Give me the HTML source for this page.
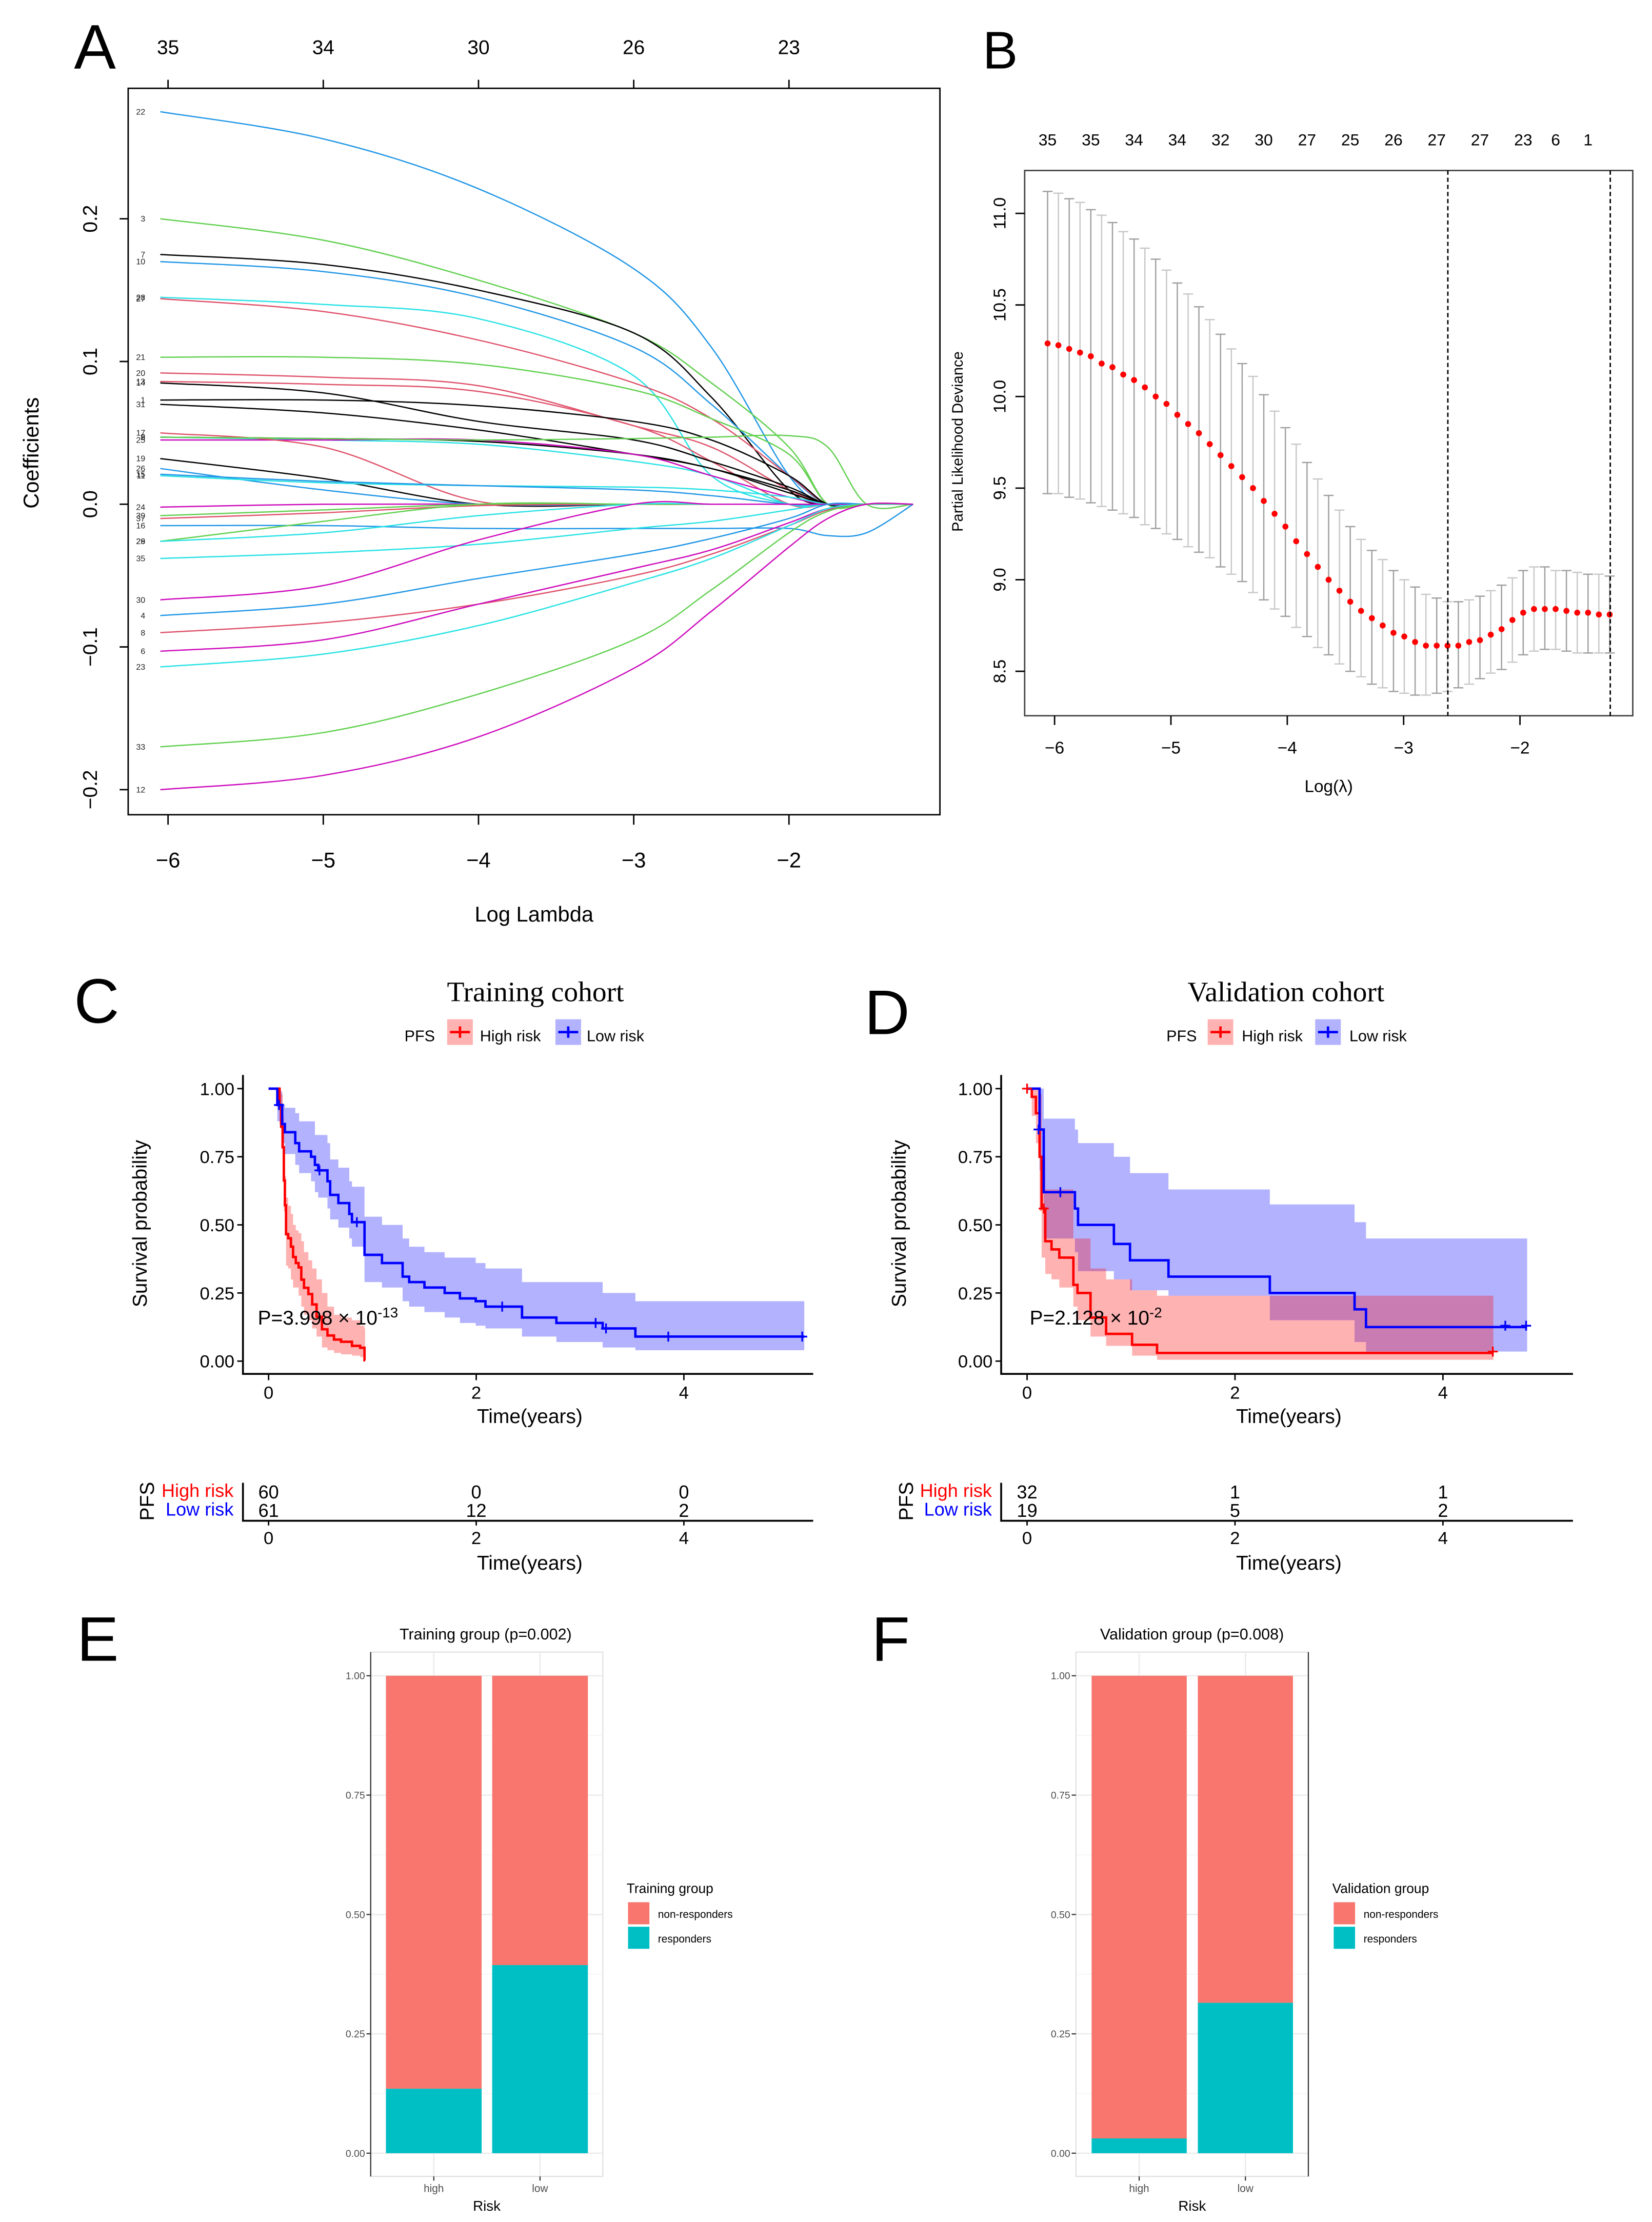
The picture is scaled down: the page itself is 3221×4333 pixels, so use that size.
<!DOCTYPE html>
<html><head><meta charset="utf-8">
<style>
html,body{margin:0;padding:0;background:#fff;}
svg{display:block;font-family:"Liberation Sans",sans-serif;}
</style></head>
<body>
<svg id="fig" xmlns="http://www.w3.org/2000/svg" width="3221" height="4333" viewBox="0 0 1160 1560" preserveAspectRatio="none">
<rect x="0" y="0" width="1160" height="1560" fill="#fff"/>
<g font-size="44" fill="#000">
<text x="52" y="48">A</text>
<text x="690" y="48" font-size="37">B</text>
<text x="52" y="718">C</text>
<text x="607" y="726">D</text>
<text x="54" y="1166">E</text>
<text x="612" y="1166">F</text>
</g>
<g id="pA"></g>
<g id="pB"></g>
<g id="pC"></g>
<g id="pD"></g>
<g id="pE"></g>
<g id="pF"></g>
</svg>
<script>
// ---------- Panel A data ----------
const aGrid = [-6.05,-5,-4,-3,-2.5,-2,-1.75,-1.5,-1.2];
const aTopTicks = [-6,-5,-4,-3,-2];
const aTopLabels = ["35","34","30","26","23"];
const aYTicks = [-0.2,-0.1,0.0,0.1,0.2];
const aLabels = ["22","3","7","10","28","27","21","20","13","14","1","31","2","9","25","17","5","19","26","11","15","24","39","37","16","29","28","35","30","4","8","6","23","33","12"];
const aColors = ["#2297E6","#61D04F","#000000","#2297E6","#28E2E5","#DF536B","#61D04F","#DF536B","#DF536B","#000000","#000000","#000000","#000000","#28E2E5","#CD0BBC","#DF536B","#61D04F","#000000","#2297E6","#28E2E5","#2297E6","#CD0BBC","#61D04F","#DF536B","#2297E6","#61D04F","#28E2E5","#28E2E5","#CD0BBC","#2297E6","#DF536B","#CD0BBC","#28E2E5","#61D04F","#CD0BBC"];
const aValues = [
[.275,.256,.221,.165,.11,.02,0,0,0],
[.2,.185,.157,.12,.085,.04,0,0,0],
[.175,.168,.15,.12,.075,.01,0,0,0],
[.17,.163,.145,.11,.07,.02,0,0,0],
[.145,.14,.13,.09,.02,0,0,0,0],
[.144,.135,.115,.085,.06,.02,0,0,0],
[.103,.103,.098,.08,.06,.035,0,0,0],
[.092,.089,.083,.055,.04,.01,0,0,0],
[.086,.084,.079,.055,.03,0,0,0,0],
[.085,.078,.058,.045,.03,.012,0,0,0],
[.073,.073,.069,.058,.045,.02,0,0,0],
[.07,.064,.052,.035,.025,.008,0,0,0],
[.047,.046,.044,.035,.025,.01,0,0,0],
[.047,.045,.042,.03,.02,0,0,0,0],
[.045,.045,.045,.035,.02,.005,0,0,0],
[.05,.04,.002,0,0,0,0,0,0],
[.047,.046,.045,.046,.047,.048,.04,0,0],
[.032,.018,0,0,0,0,0,0,0],
[.025,.01,0,0,0,0,0,0,0],
[.02,.015,.013,.012,.01,.005,0,0,0],
[.021,.016,.013,.01,.006,0,0,0,0],
[-.002,0,0,0,0,0,0,0,0],
[-.008,-.004,0,0,0,0,0,0,0],
[-.01,-.006,-.001,0,0,0,0,0,0],
[-.015,-.015,-.017,-.017,-.017,-.017,-.022,-.02,0],
[-.026,-.012,0,0,0,0,0,0,0],
[-.026,-.02,-.008,0,0,0,0,0,0],
[-.038,-.034,-.028,-.017,-.012,-.004,0,0,0],
[-.067,-.057,-.025,0,0,0,0,0,0],
[-.078,-.07,-.052,-.035,-.024,-.01,0,0,0],
[-.09,-.083,-.07,-.05,-.035,-.015,-.004,0,0],
[-.103,-.095,-.07,-.045,-.032,-.013,-.003,0,0],
[-.114,-.105,-.085,-.055,-.038,-.015,-.003,0,0],
[-.17,-.16,-.133,-.095,-.06,-.02,-.005,0,0],
[-.2,-.19,-.163,-.115,-.075,-.03,-.01,0,0]];

// ---------- Panel B data ----------
const bStart = -6.06, bStep = 0.0929;
const bMean = [10.29,10.28,10.26,10.24,10.22,10.18,10.16,10.12,10.09,10.05,10.00,9.96,9.90,9.85,9.80,9.74,9.68,9.62,9.56,9.50,9.43,9.36,9.29,9.21,9.14,9.07,9.00,8.94,8.88,8.83,8.79,8.75,8.71,8.69,8.66,8.64,8.64,8.64,8.64,8.66,8.67,8.70,8.73,8.78,8.82,8.84,8.84,8.84,8.83,8.82,8.82,8.81,8.81];
const bUpper = [11.12,11.11,11.08,11.06,11.02,10.99,10.95,10.90,10.86,10.81,10.75,10.69,10.62,10.56,10.49,10.42,10.34,10.26,10.18,10.11,10.01,9.92,9.83,9.74,9.64,9.55,9.46,9.38,9.29,9.22,9.16,9.11,9.05,9.00,8.96,8.92,8.90,8.88,8.88,8.89,8.91,8.94,8.97,9.01,9.05,9.07,9.07,9.05,9.05,9.04,9.03,9.03,9.02];
const bLower = [9.47,9.47,9.45,9.44,9.42,9.40,9.38,9.36,9.34,9.30,9.28,9.25,9.22,9.18,9.15,9.12,9.07,9.03,8.99,8.93,8.89,8.84,8.80,8.74,8.69,8.63,8.59,8.54,8.50,8.47,8.43,8.41,8.39,8.38,8.37,8.37,8.38,8.39,8.41,8.43,8.46,8.49,8.51,8.55,8.59,8.61,8.62,8.62,8.61,8.60,8.60,8.60,8.60];
const bTopLabels = ["35","35","34","34","32","30","27","25","26","27","27","23","6","1"];
const bTopIdx = [0,4,8,12,16,20,24,28,32,36,40,44,47,50];
const bVlines = [-2.62,-1.224];
const bXTicks = [-6,-5,-4,-3,-2];
const bYTicks = [8.5,9.0,9.5,10.0,10.5,11.0];

// ---------- Panel C data ----------
const cBlueT = [0,0.084,0.131,0.157,0.257,0.294,0.409,0.446,0.478,0.567,0.593,0.672,0.777,0.803,0.924,1.092,1.291,1.354,1.501,1.696,1.843,1.995,2.089,2.441,2.772,3.218,3.533];
const cBlueS = [1,0.94,0.87,0.84,0.80,0.77,0.75,0.72,0.70,0.66,0.61,0.58,0.54,0.51,0.39,0.36,0.31,0.29,0.27,0.25,0.23,0.22,0.20,0.16,0.14,0.12,0.09];
const cBlueU = [1,0.99,0.94,0.93,0.91,0.88,0.88,0.83,0.83,0.80,0.74,0.71,0.66,0.64,0.53,0.50,0.45,0.42,0.40,0.38,0.38,0.36,0.34,0.29,0.29,0.25,0.22];
const cBlueL = [1,0.88,0.80,0.76,0.72,0.69,0.66,0.62,0.60,0.56,0.52,0.49,0.45,0.42,0.29,0.27,0.22,0.20,0.18,0.16,0.14,0.13,0.12,0.09,0.07,0.05,0.04];
const cBlueEnd = 5.16;
const cBlueCT = [0.1,0.49,0.85,2.25,3.15,3.25,3.85,5.14];
const cBlueCS = [0.94,0.70,0.51,0.20,0.14,0.12,0.09,0.09];
const cRedT = [0,0.084,0.105,0.121,0.136,0.147,0.157,0.168,0.189,0.215,0.236,0.262,0.289,0.315,0.341,0.383,0.42,0.462,0.514,0.567,0.63,0.698,0.803,0.882,0.924];
const cRedS = [1,1,0.936,0.86,0.785,0.663,0.572,0.466,0.451,0.42,0.382,0.36,0.344,0.299,0.269,0.246,0.208,0.163,0.117,0.094,0.079,0.071,0.056,0.049,0.003];
const cRedU = [1,1,1,0.98,0.9,0.78,0.68,0.6,0.57,0.54,0.5,0.48,0.47,0.44,0.4,0.37,0.34,0.3,0.25,0.2,0.17,0.16,0.15,0.13,0.12];
const cRedL = [1,1,0.87,0.78,0.68,0.55,0.46,0.35,0.34,0.3,0.27,0.27,0.24,0.2,0.17,0.15,0.12,0.09,0.05,0.04,0.03,0.025,0.02,0.015,0.0];
const cRedEnd = 0.93;
const cRedCT = [];
const cRedCS = [];
const cRiskHigh = ["60","0","0"];
const cRiskLow = ["61","12","2"];

// ---------- Panel D data ----------
const dBlueT = [0,0.12,0.16,0.46,0.49,0.835,0.99,1.36,2.335,3.15,3.26];
const dBlueS = [1,0.85,0.62,0.56,0.50,0.43,0.37,0.31,0.25,0.19,0.125];
const dBlueU = [1,1,0.89,0.85,0.80,0.75,0.69,0.63,0.575,0.51,0.45];
const dBlueL = [1,0.70,0.45,0.40,0.33,0.30,0.26,0.24,0.15,0.07,0.035];
const dBlueEnd = 4.81;
const dBlueCT = [0.11,0.32,4.6,4.8];
const dBlueCS = [0.85,0.62,0.13,0.13];
const dRedT = [0,0.045,0.085,0.12,0.14,0.175,0.235,0.31,0.445,0.485,0.61,0.76,1.01,1.25];
const dRedS = [1,0.97,0.91,0.75,0.56,0.44,0.41,0.38,0.28,0.25,0.16,0.10,0.06,0.03];
const dRedU = [1,1,1,0.98,0.75,0.63,0.63,0.63,0.45,0.45,0.34,0.30,0.26,0.24];
const dRedL = [1,0.9,0.8,0.55,0.38,0.32,0.30,0.27,0.20,0.15,0.09,0.056,0.02,0.005];
const dRedEnd = 4.485;
const dRedCT = [0,0.16,4.48];
const dRedCS = [1.0,0.56,0.035];
const dRiskHigh = ["32","1","1"];
const dRiskLow = ["19","5","2"];

const kmXTicks = [0,2,4];
const kmYTicks = [0,0.25,0.5,0.75,1.0];
const kmYLabels = ["0.00","0.25","0.50","0.75","1.00"];

// ---------- Panels E/F data ----------
const barCats = ["high","low"];
const eResponders = [0.135,0.394];
const fResponders = [0.031,0.315];
const barYTicks = [0,0.25,0.5,0.75,1.0];
const barYLabels = ["0.00","0.25","0.50","0.75","1.00"];

// ---------- helpers ----------
const NS = "http://www.w3.org/2000/svg";
function mk(parent, tag, attrs, text) {
  const e = document.createElementNS(NS, tag);
  for (const k in attrs) e.setAttribute(k, attrs[k]);
  if (text !== undefined) e.textContent = text;
  parent.appendChild(e);
  return e;
}
function smooth(pts) {
  let d = "M" + pts[0][0].toFixed(2) + "," + pts[0][1].toFixed(2);
  for (let i = 0; i < pts.length - 1; i++) {
    const p0 = pts[Math.max(0, i - 1)], p1 = pts[i], p2 = pts[i + 1], p3 = pts[Math.min(pts.length - 1, i + 2)];
    const c1x = p1[0] + (p2[0] - p0[0]) / 6, c1y = p1[1] + (p2[1] - p0[1]) / 6;
    const c2x = p2[0] - (p3[0] - p1[0]) / 6, c2y = p2[1] - (p3[1] - p1[1]) / 6;
    d += "C" + c1x.toFixed(2) + "," + c1y.toFixed(2) + " " + c2x.toFixed(2) + "," + c2y.toFixed(2) + " " + p2[0].toFixed(2) + "," + p2[1].toFixed(2);
  }
  return d;
}

// ---------- Panel A ----------
(function () {
  const g = document.getElementById("pA");
  const ax = x => 118 + (x + 6) * 109;
  const ay = v => 354 - v * 1002;
  const box = mk(g, "rect", {x: 90, y: 62, width: 570, height: 510, fill: "none", stroke: "#000", "stroke-width": 1});
  
  
  aValues.forEach((vals, i) => {
    const pts = aGrid.map((x, j) => [ax(x), ay(vals[j])]);
    const p = mk(g, "path", {d: smooth(pts), fill: "none", stroke: aColors[i], "stroke-width": 0.9});
    
    
    const t = mk(g, "text", {x: 102, y: ay(vals[0]) + 2, "font-size": 5.8, "text-anchor": "end", fill: "#222"}, aLabels[i]);
    
    
  });
  aTopTicks.forEach((x, i) => {
    const tk = mk(g, "line", {x1: ax(x), x2: ax(x), y1: 56, y2: 62, stroke: "#000", "stroke-width": 1});
    
    
    const t = mk(g, "text", {x: ax(x), y: 38, "font-size": 14, "text-anchor": "middle"}, aTopLabels[i]);
    
    
    const bt = mk(g, "line", {x1: ax(x), x2: ax(x), y1: 572, y2: 579, stroke: "#000", "stroke-width": 1});
    
    
    const bl = mk(g, "text", {x: ax(x), y: 609, "font-size": 15, "text-anchor": "middle"}, "\u2212" + Math.abs(x));
    
    
  });
  aYTicks.forEach(v => {
    const tk = mk(g, "line", {x1: 84, x2: 90, y1: ay(v), y2: ay(v), stroke: "#000", "stroke-width": 1});
    
    
    const lab = (v < 0 ? "\u2212" : "") + Math.abs(v).toFixed(1);
    const t = mk(g, "text", {x: 0, y: 0, "font-size": 14, "text-anchor": "middle", transform: "translate(68," + ay(v) + ") rotate(-90)"}, lab);
    
    
  });
  const xt = mk(g, "text", {x: 375, y: 647, "font-size": 15, "text-anchor": "middle"}, "Log Lambda");
  
  
  const yt = mk(g, "text", {x: 0, y: 0, "font-size": 15, "text-anchor": "middle", transform: "translate(27,318) rotate(-90)"}, "Coefficients");
  
  
})();

// ---------- Panel B ----------
(function () {
  const g = document.getElementById("pB");
  const bx = l => 1067.3 + (l + 2) * 81.7;
  const by = v => 471.3 - (v - 8.5) * 128.6;
  const box = mk(g, "rect", {x: 719.5, y: 119.7, width: 427, height: 382.8, fill: "none", stroke: "#444", "stroke-width": 1});
  
  
  bMean.forEach((m, i) => {
    const x = bx(bStart + i * bStep);
    const col = i % 2 ? "#c8c8c8" : "#a0a0a0";
    const eb = mk(g, "path", {d: "M" + x + "," + by(bUpper[i]) + "V" + by(bLower[i]) + "M" + (x - 3.5) + "," + by(bUpper[i]) + "H" + (x + 3.5) + "M" + (x - 3.5) + "," + by(bLower[i]) + "H" + (x + 3.5), stroke: col, "stroke-width": 0.9, fill: "none"});
    
    
  });
  bMean.forEach((m, i) => {
    const c = mk(g, "circle", {cx: bx(bStart + i * bStep), cy: by(m), r: 2.1, fill: "#ff0000"});
    
    
  });
  bVlines.forEach(l => {
    const v = mk(g, "line", {x1: bx(l), x2: bx(l), y1: 119.7, y2: 502.5, stroke: "#000", "stroke-width": 1, "stroke-dasharray": "3,2"});
    
    
  });
  bTopIdx.forEach((idx, i) => {
    const t = mk(g, "text", {x: bx(bStart + idx * bStep), y: 102, "font-size": 11.5, "text-anchor": "middle"}, bTopLabels[i]);
    
    
  });
  bXTicks.forEach(x => {
    const tk = mk(g, "line", {x1: bx(x), x2: bx(x), y1: 502.5, y2: 509, stroke: "#000", "stroke-width": 1});
    
    
    const t = mk(g, "text", {x: bx(x), y: 529, "font-size": 12, "text-anchor": "middle"}, "\u2212" + Math.abs(x));
    
    
  });
  bYTicks.forEach(v => {
    const tk = mk(g, "line", {x1: 713, x2: 719.5, y1: by(v), y2: by(v), stroke: "#000", "stroke-width": 1});
    
    
    const t = mk(g, "text", {x: 0, y: 0, "font-size": 12, "text-anchor": "middle", transform: "translate(706," + by(v) + ") rotate(-90)"}, v.toFixed(1));
    
    
  });
  const xt = mk(g, "text", {x: 933, y: 556, "font-size": 12, "text-anchor": "middle"}, "Log(\u03bb)");
  
  
  const yt = mk(g, "text", {x: 0, y: 0, "font-size": 10.5, "text-anchor": "middle", transform: "translate(676,310) rotate(-90)"}, "Partial Likelihood Deviance");
  
  
})();

// ---------- KM panels ----------
function kmPanel(gid, o) {
  const g = document.getElementById(gid);
  const X = t => o.x0 + t * o.px;
  const Y = s => 955.6 - s * 191.3;
  function band(T, U, L, end) {
    let d = "M" + X(T[0]) + "," + Y(U[0]);
    for (let i = 1; i < T.length; i++) d += "H" + X(T[i]) + "V" + Y(U[i]);
    d += "H" + X(end) + "V" + Y(L[L.length - 1]);
    for (let i = T.length - 1; i >= 1; i--) d += "H" + X(T[i]) + "V" + Y(L[i - 1]);
    d += "H" + X(T[0]) + "Z";
    return d;
  }
  function step(T, S, end) {
    let d = "M" + X(T[0]) + "," + Y(S[0]);
    for (let i = 1; i < T.length; i++) d += "H" + X(T[i]) + "V" + Y(S[i]);
    d += "H" + X(end);
    return d;
  }
  const bb = mk(g, "path", {d: band(o.bT, o.bU, o.bL, o.bEnd), fill: "rgba(0,0,255,0.3)", stroke: "none"});
  
  
  const rb = mk(g, "path", {d: band(o.rT, o.rU, o.rL, o.rEnd), fill: "rgba(255,0,0,0.3)", stroke: "none"});
  
  
  const rl = mk(g, "path", {d: step(o.rT, o.rS, o.rEnd), fill: "none", stroke: "#ff0000", "stroke-width": 1.7});
  
  
  const bl = mk(g, "path", {d: step(o.bT, o.bS, o.bEnd), fill: "none", stroke: "#0000ff", "stroke-width": 1.7});
  
  
  o.bCT.forEach((t, i) => {
    const c = mk(g, "path", {d: "M" + (X(t) - 3.5) + "," + Y(o.bCS[i]) + "h7M" + X(t) + "," + (Y(o.bCS[i]) - 3.5) + "v7", stroke: "#0000ff", "stroke-width": 1.2});
    
    
  });
  o.rCT.forEach((t, i) => {
    const c = mk(g, "path", {d: "M" + (X(t) - 3.5) + "," + Y(o.rCS[i]) + "h7M" + X(t) + "," + (Y(o.rCS[i]) - 3.5) + "v7", stroke: "#ff0000", "stroke-width": 1.2});
    
    
  });
  const axes = mk(g, "path", {d: "M" + o.ax + ",754.7V964.6H" + o.right, fill: "none", stroke: "#000", "stroke-width": 1.3});
  
  
  kmYTicks.forEach((v, i) => {
    const tk = mk(g, "line", {x1: o.ax - 4, x2: o.ax, y1: Y(v), y2: Y(v), stroke: "#000", "stroke-width": 1});
    
    
    const t = mk(g, "text", {x: o.ax - 6, y: Y(v) + 4.5, "font-size": 12.5, "text-anchor": "end", "font-stretch": "condensed"}, kmYLabels[i]);
    
    
  });
  kmXTicks.forEach(v => {
    const tk = mk(g, "line", {x1: X(v), x2: X(v), y1: 964.6, y2: 969, stroke: "#000", "stroke-width": 1});
    
    
    const t = mk(g, "text", {x: X(v), y: 982, "font-size": 12.5, "text-anchor": "middle"}, String(v));
    
    
  });
  const xt = mk(g, "text", {x: o.xtc, y: 999, "font-size": 14, "text-anchor": "middle"}, "Time(years)");
  
  
  const yt = mk(g, "text", {x: 0, y: 0, "font-size": 14, "text-anchor": "middle", transform: "translate(" + o.ytx + ",859) rotate(-90)"}, "Survival probability");
  
  
  const title = mk(g, "text", {x: o.tc, y: 703, "font-size": 20, "text-anchor": "middle", "font-family": "Liberation Serif, serif"}, o.title);
  
  
  const pv = mk(g, "text", {x: o.px0, y: 930, "font-size": 14}, "P=" + o.p);
  
  
  const sup = mk(pv, "tspan", {dy: -5, "font-size": 10}, o.pexp);
  
  
  // legend
  const lg = mk(g, "g", {});
  
  
  const lt = mk(lg, "text", {x: o.lg[0], y: 731, "font-size": 11}, "PFS");
  
  
  [["High risk", "rgba(255,0,0,0.3)", "#ff0000", o.lg[1], o.lg[2]], ["Low risk", "rgba(0,0,255,0.3)", "#0000ff", o.lg[3], o.lg[4]]].forEach(e => {
    const r = mk(lg, "rect", {x: e[3], y: 715.6, width: 18, height: 18, fill: e[1]});
    
    
    const k = mk(lg, "path", {d: "M" + (e[3] + 2) + ",724.6h14M" + (e[3] + 9) + ",720.6v8", stroke: e[2], "stroke-width": 1.7});
    
    
    const t = mk(lg, "text", {x: e[4], y: 731, "font-size": 11}, e[0]);
    
    
  });
  // risk table
  const hr = mk(g, "text", {x: o.rlx, y: 1051, "font-size": 13, "text-anchor": "end", fill: "#ff0000"}, "High risk");
  
  
  const lr = mk(g, "text", {x: o.rlx, y: 1064, "font-size": 13, "text-anchor": "end", fill: "#0000ff"}, "Low risk");
  
  
  const pf = mk(g, "text", {x: 0, y: 0, "font-size": 14, "text-anchor": "middle", transform: "translate(" + (o.ytx + 5) + ",1054) rotate(-90)"}, "PFS");
  
  
  kmXTicks.forEach((v, i) => {
    const a = mk(g, "text", {x: X(v), y: 1052, "font-size": 13, "text-anchor": "middle"}, o.riskH[i]);
    
    
    const b = mk(g, "text", {x: X(v), y: 1065, "font-size": 13, "text-anchor": "middle"}, o.riskL[i]);
    
    
    const tk = mk(g, "line", {x1: X(v), x2: X(v), y1: 1067.7, y2: 1071, stroke: "#000", "stroke-width": 1});
    
    
    const tl = mk(g, "text", {x: X(v), y: 1084, "font-size": 12.5, "text-anchor": "middle"}, String(v));
    
    
  });
  const ra = mk(g, "path", {d: "M" + o.ax + ",1041V1067.7H" + o.right, fill: "none", stroke: "#000", "stroke-width": 1.3});
  
  
  const rt = mk(g, "text", {x: o.xtc, y: 1102, "font-size": 14, "text-anchor": "middle"}, "Time(years)");
  
  
}
kmPanel("pC", {x0: 188.6, px: 72.9, ax: 170.6, right: 571, xtc: 372, ytx: 103, tc: 376, title: "Training cohort",
  p: "3.998 \u00d7 10", pexp: "-13", px0: 181, lg: [284, 314, 337, 390, 412], rlx: 164, riskH: cRiskHigh, riskL: cRiskLow,
  bT: cBlueT, bS: cBlueS, bU: cBlueU, bL: cBlueL, bEnd: cBlueEnd, bCT: cBlueCT, bCS: cBlueCS,
  rT: cRedT, rS: cRedS, rU: cRedU, rL: cRedL, rEnd: cRedEnd, rCT: cRedCT, rCS: cRedCS});
kmPanel("pD", {x0: 721.2, px: 73, ax: 703, right: 1104.5, xtc: 905, ytx: 636, tc: 903, title: "Validation cohort",
  p: "2.128 \u00d7 10", pexp: "-2", px0: 723, lg: [819, 848, 872, 923.5, 947.5], rlx: 696.5, riskH: dRiskHigh, riskL: dRiskLow,
  bT: dBlueT, bS: dBlueS, bU: dBlueU, bL: dBlueL, bEnd: dBlueEnd, bCT: dBlueCT, bCS: dBlueCS,
  rT: dRedT, rS: dRedS, rU: dRedU, rL: dRedL, rEnd: dRedEnd, rCT: dRedCT, rCS: dRedCS});

// ---------- Bar panels ----------
function barPanel(gid, o, resp) {
  const g = document.getElementById(gid);
  const Y = v => 1511.7 - v * 335.2;
  const bg = mk(g, "rect", {x: o.bx0, y: 1159.9, width: o.bx1 - o.bx0, height: 368.1, fill: "#fff", stroke: "#e0e0e0", "stroke-width": 0.8});
  
  
  [0.125, 0.375, 0.625, 0.875].forEach(v => {
    const l = mk(g, "line", {x1: o.bx0, x2: o.bx1, y1: Y(v), y2: Y(v), stroke: "#f2f2f2", "stroke-width": 0.5});
    
    
  });
  barYTicks.forEach(v => {
    const l = mk(g, "line", {x1: o.bx0, x2: o.bx1, y1: Y(v), y2: Y(v), stroke: "#ebebeb", "stroke-width": 0.9});
    
    
  });
  barCats.forEach((c, i) => {
    const l = mk(g, "line", {x1: o.cx[i], x2: o.cx[i], y1: 1159.9, y2: 1528, stroke: "#ebebeb", "stroke-width": 0.9});
    
    
  });
  barCats.forEach((c, i) => {
    const x = o.cx[i] - o.bw / 2;
    const nr = mk(g, "rect", {x: x, y: Y(1), width: o.bw, height: Y(resp[i]) - Y(1), fill: "#F8766D"});
    
    
    const r = mk(g, "rect", {x: x, y: Y(resp[i]), width: o.bw, height: Y(0) - Y(resp[i]), fill: "#00BFC4"});
    
    
    const tk = mk(g, "line", {x1: o.cx[i], x2: o.cx[i], y1: 1528, y2: 1531, stroke: "#333", "stroke-width": 0.8});
    
    
    const t = mk(g, "text", {x: o.cx[i], y: 1539, "font-size": 7.5, "text-anchor": "middle", fill: "#4d4d4d"}, c);
    
    
  });
  const edge = mk(g, "line", {x1: o.dark, x2: o.dark, y1: 1159.9, y2: 1528, stroke: "#333", "stroke-width": 0.8});
  
  
  barYTicks.forEach((v, i) => {
    const tk = mk(g, "line", {x1: o.bx0 - 3, x2: o.bx0, y1: Y(v), y2: Y(v), stroke: "#333", "stroke-width": 0.8});
    
    
    const t = mk(g, "text", {x: o.bx0 - 4, y: Y(v) + 2.5, "font-size": 7, "text-anchor": "end", fill: "#4d4d4d"}, barYLabels[i]);
    
    
  });
  const title = mk(g, "text", {x: o.tc, y: 1151, "font-size": 11, "text-anchor": "middle"}, o.title);
  
  
  const xt = mk(g, "text", {x: (o.bx0 + o.bx1) / 2, y: 1552, "font-size": 10, "text-anchor": "middle"}, "Risk");
  
  
  const lt = mk(g, "text", {x: o.lx, y: 1329, "font-size": 9.5}, o.legendTitle);
  
  
  [["non-responders", "#F8766D", 1335.5], ["responders", "#00BFC4", 1352.7]].forEach(e => {
    const r = mk(g, "rect", {x: o.lx + 1, y: e[2], width: 15, height: 15.5, fill: e[1]});
    
    
    const t = mk(g, "text", {x: o.lx + 22, y: e[2] + 11, "font-size": 7.5}, e[0]);
    
    
  });
}
barPanel("pE", {bx0: 260.3, bx1: 423.3, cx: [304.6, 379.2], bw: 67.2, dark: 260.3, tc: 341, title: "Training group (p=0.002)", lx: 440, legendTitle: "Training group"}, eResponders);
barPanel("pF", {bx0: 755.5, bx1: 918.7, cx: [799.9, 874.5], bw: 66.8, dark: 918.7, tc: 837, title: "Validation group (p=0.008)", lx: 935.5, legendTitle: "Validation group"}, fResponders);
</script>
</body></html>
